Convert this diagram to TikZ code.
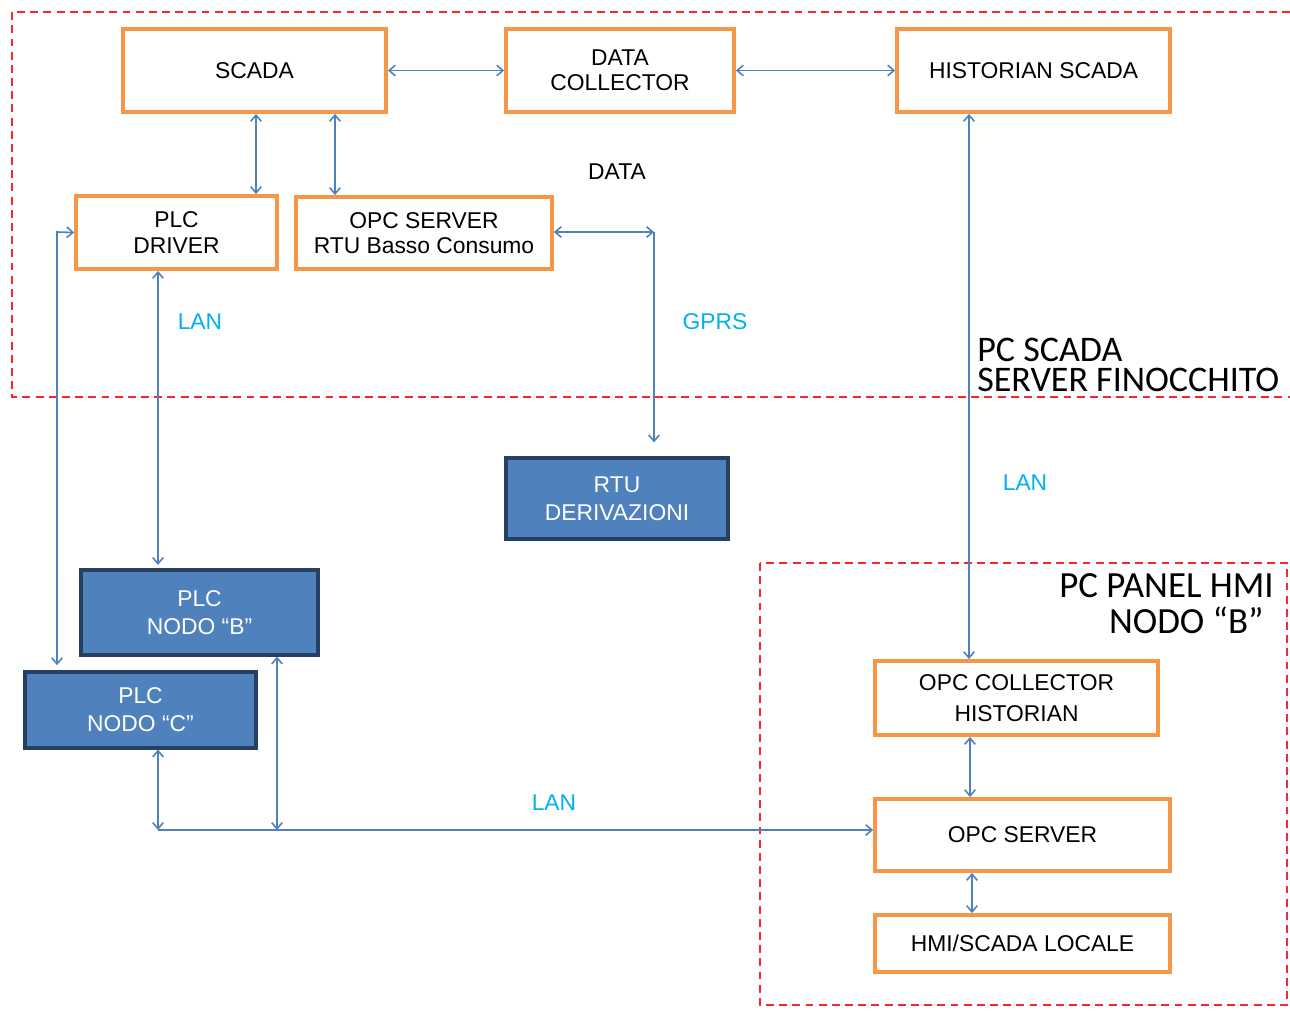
\documentclass[tikz,border=0pt]{standalone}
\usepackage{fontspec}
\setmainfont{Liberation Sans}
\newfontfamily\zonefont{Carlito}
\usetikzlibrary{arrows.meta, positioning}

\definecolor{boxorange}{RGB}{247,150,70}
\definecolor{plcblue}{RGB}{79,129,189}
\definecolor{plcborder}{RGB}{38,64,97}
\definecolor{linkblue}{RGB}{79,129,189}
\definecolor{lanblue}{RGB}{0,176,240}
\definecolor{zonered}{RGB}{250,40,40}

\begin{document}
\begin{tikzpicture}[x=0.02cm, y=-0.02cm,
  box/.style={draw=boxorange, line width=2.2pt, fill=white, align=center,
              inner sep=0pt, font=\fontsize{13}{14.5}\selectfont},
  plc/.style={draw=plcborder, line width=1.8pt, fill=plcblue, text=white,
              align=center, inner sep=0pt, font=\fontsize{13}{16}\selectfont},
  arr/.style={{Straight Barb[length=3.5pt,width=6pt]}-{Straight Barb[length=3.5pt,width=6pt]},
              draw=linkblue, line width=0.9pt},
  onearr/.style={-{Straight Barb[length=3.5pt,width=6pt]}, draw=linkblue, line width=0.9pt},
  region/.style={draw=zonered, dashed, dash pattern=on 4.5pt off 3pt, line width=0.8pt},
  lbl/.style={text=lanblue, font=\fontsize{13}{15}\selectfont},
  zone/.style={font=\zonefont\fontsize{20.5}{20.5}\selectfont, inner sep=0pt}
]
\useasboundingbox[fill=white] (0,0) rectangle (1290,1010);

% PC SCADA zone (top)
\draw[region] (1290,12) -- (12,12) -- (12,397) -- (1290,397);
\node[box, minimum width=5.26cm, minimum height=1.66cm] (scada)     at (254.5,70.5) {SCADA};
\node[box, minimum width=4.56cm, minimum height=1.66cm] (datacoll)  at (620,70.5)   {DATA\\COLLECTOR};
\node[box, minimum width=5.46cm, minimum height=1.66cm] (histscada) at (1033.5,70.5) {HISTORIAN SCADA};
\node[box, minimum width=4.02cm, minimum height=1.46cm] (driver)    at (176.5,232.5) {PLC\\DRIVER};
\node[box, minimum width=5.12cm, minimum height=1.44cm] (opcrtu)    at (424,233)    {OPC SERVER\\RTU Basso Consumo};
\node[font=\fontsize{13}{15}\selectfont] (datalbl) at (617,172) {DATA};
\node[zone, anchor=base west] (scadazone)  at (977,361) {PC SCADA};
\node[zone, anchor=base west] (scadaserver) at (977,391) {SERVER FINOCCHITO};

% Field devices
\node[plc, minimum width=4.44cm, minimum height=1.62cm] (rtu)  at (617,498.5) {RTU\\DERIVAZIONI};
\node[plc, minimum width=4.74cm, minimum height=1.70cm] (plcb) at (199.5,612.5) {PLC\\NODO “B”};
\node[plc, minimum width=4.62cm, minimum height=1.52cm] (plcc) at (140.5,710) {PLC\\NODO “C”};

% PC PANEL HMI zone (bottom right)
\draw[region] (760,563) rectangle (1287,1005);
\node[zone, anchor=base east, font=\zonefont\fontsize{21}{21}\selectfont] (hmizone) at (1274,597) {PC PANEL HMI};
\node[zone, anchor=base east, font=\zonefont\fontsize{21}{21}\selectfont] (hminode) at (1264,633) {NODO “B”};
\node[box, minimum width=5.66cm, minimum height=1.48cm,
      font=\fontsize{13}{18}\selectfont] (opccoll) at (1016.5,698) {OPC COLLECTOR\\HISTORIAN};
\node[box, minimum width=5.90cm, minimum height=1.44cm] (opcsrv) at (1022.5,835) {OPC SERVER};
\node[box, minimum width=5.90cm, minimum height=1.14cm] (hmi)    at (1022.5,943.5) {HMI/SCADA LOCALE};

% Link labels
\node[lbl] (lanplc)  at (200,322)  {LAN};
\node[lbl] (gprs)    at (715,322)  {GPRS};
\node[lbl] (lanhmi)  at (1025,483) {LAN};
\node[lbl] (lanbus)  at (554,803)  {LAN};

% Arrows
\coordinate (gprsbend) at (654,232);
\coordinate (cbend)    at (57,232);
\coordinate (busleft)  at (158,830);
\coordinate (busmid)   at (277,830);

\draw[arr] (scada.east) -- (datacoll.west);
\draw[arr] (datacoll.east) -- (histscada.west);
\draw[arr] (scada.south -| 256,0) -- (driver.north -| 256,0);
\draw[arr] (scada.south -| 335,0) -- (opcrtu.north -| 335,0);
\draw[arr] (histscada.south -| 969,0) -- (opccoll.north -| 969,0);

% GPRS to RTU
\draw[arr] (opcrtu.east |- gprsbend) -- (gprsbend);
\draw[onearr, shorten >=8pt] (gprsbend) -- (rtu.north -| gprsbend);

% LAN to PLCs
\draw[arr, shorten >=2pt] (driver.south -| 158,0) -- (plcb.north -| 158,0);
\draw[arr, shorten >=3pt] (driver.west) -- (cbend) -- (plcc.north -| cbend);
\draw[arr] (plcc.south -| busleft) -- (busleft);
\draw[arr] (plcb.south -| busmid) -- (busmid);
\draw[onearr] (busleft) -- (opcsrv.west |- busleft);

% HMI panel
\draw[arr] (opccoll.south -| 970,0) -- (opcsrv.north -| 970,0);
\draw[arr] (opcsrv.south -| 972,0) -- (hmi.north -| 972,0);

\end{tikzpicture}
\end{document}
